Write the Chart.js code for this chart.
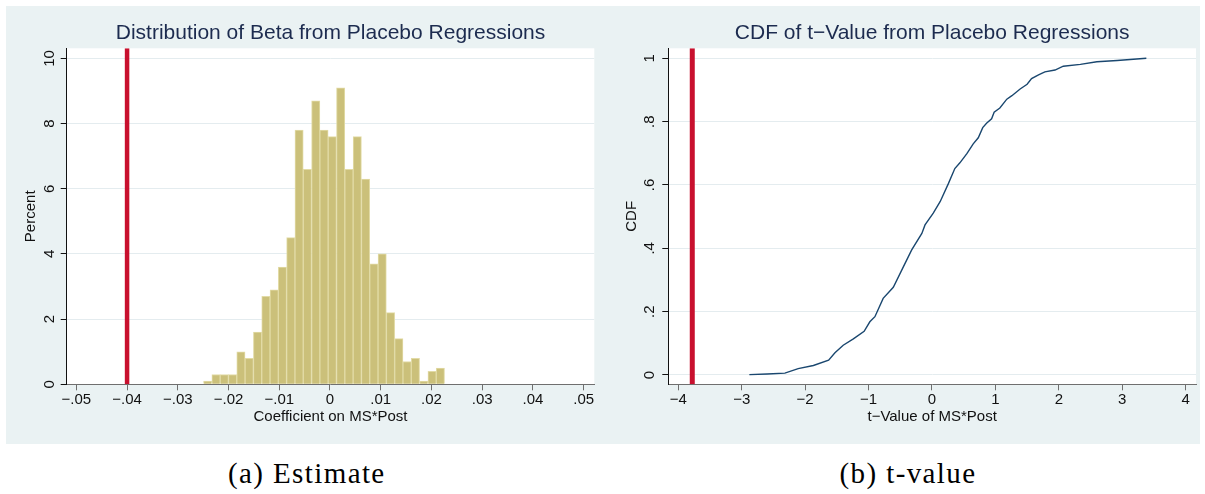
<!DOCTYPE html>
<html>
<head>
<meta charset="utf-8">
<script src="https://cdn.jsdelivr.net/npm/chart.js@4.4.1/dist/chart.umd.min.js"></script>
<style>
  html, body { margin: 0; padding: 0; background: #ffffff; }
  body { width: 1205px; height: 494px; position: relative; overflow: hidden; }
  .panel { position: absolute; top: 6px; width: 597px; height: 438px; background: #EAF2F3; }
  .panel canvas { display: block; }
  #panelA { left: 6px; }
  #panelB { left: 603px; }
  .caption {
    position: absolute; top: 457.7px;
    font-family: 'Liberation Serif', 'Times New Roman', serif;
    font-size: 29px; line-height: 30px; letter-spacing: 1.4px;
    color: #000; white-space: nowrap; transform: translateX(-50%);
  }
</style>
</head>
<body>
<div class="panel" id="panelA"><canvas id="betaChart" width="597" height="438"></canvas></div>
<div class="panel" id="panelB"><canvas id="tChart" width="597" height="438"></canvas></div>
<div class="caption" style="left:306.8px">(a) Estimate</div>
<div class="caption" style="left:908px">(b) t-value</div>

<script>
// ---- Histogram of placebo coefficients ----
const binCenters = [
  -0.02411, -0.02247, -0.02083, -0.01920, -0.01756, -0.01592, -0.01428, -0.01264,
  -0.01100, -0.00937, -0.00773, -0.00609, -0.00445, -0.00281, -0.00118,  0.00046,
   0.00210,  0.00374,  0.00538,  0.00701,  0.00865,  0.01029,  0.01193,  0.01357,
   0.01520,  0.01684,  0.01848,  0.02012,  0.02176
];
const binPercent = [
  0.1, 0.3, 0.3, 0.3, 1.0, 0.8, 1.6, 2.7,
  2.9, 3.6, 4.5, 7.8, 6.6, 8.7, 7.8, 7.6,
  9.1, 6.6, 7.6, 6.3, 3.7, 4.0, 2.2, 1.4,
  0.7, 0.8, 0.1, 0.4, 0.5
];
const betaTicks = [-0.05, -0.04, -0.03, -0.02, -0.01, 0, 0.01, 0.02, 0.03, 0.04, 0.05];
const betaTickLabels = ['\u2212.05', '\u2212.04', '\u2212.03', '\u2212.02', '\u2212.01', '0', '.01', '.02', '.03', '.04', '.05'];
const percentTicks = [0, 2, 4, 6, 8, 10];
const percentTickLabels = ['0', '2', '4', '6', '8', '10'];
const betaActual = -0.04;
const betaRange = [-0.0519, 0.0521];
const percentRange = [0, 10.31];

// ---- CDF of placebo t-values ----
const tValues = [
  -2.88, -2.60, -2.32, -2.11, -1.87, -1.63, -1.53, -1.40, -1.24, -1.07, -0.98,
  -0.90, -0.77, -0.61, -0.45, -0.32, -0.16, -0.11, 0.02, 0.13, 0.26, 0.36,
  0.44, 0.55, 0.65, 0.73, 0.80, 0.86, 0.94, 0.98, 1.07, 1.18, 1.26,
  1.39, 1.50, 1.57, 1.68, 1.78, 1.94, 2.07, 2.34, 2.60, 2.92, 3.38
];
const cdfValues = [
  0.001, 0.003, 0.006, 0.020, 0.030, 0.047, 0.070, 0.094, 0.114, 0.138, 0.168,
  0.184, 0.242, 0.277, 0.342, 0.395, 0.447, 0.474, 0.511, 0.548, 0.605, 0.652,
  0.670, 0.699, 0.730, 0.749, 0.781, 0.795, 0.809, 0.830, 0.843, 0.871, 0.882,
  0.903, 0.918, 0.936, 0.948, 0.957, 0.963, 0.975, 0.981, 0.989, 0.993, 1.000
];
const tTicks = [-4, -3, -2, -1, 0, 1, 2, 3, 4];
const tTickLabels = ['\u22124', '\u22123', '\u22122', '\u22121', '0', '1', '2', '3', '4'];
const cdfTicks = [0, 0.2, 0.4, 0.6, 0.8, 1];
const cdfTickLabels = ['0', '.2', '.4', '.6', '.8', '1'];
const tActual = -3.78;
const tRange = [-4.158, 4.163];
const cdfRange = [-0.0294, 1.0316];

// ---- shared styling ----
const BG_PLOT = '#ffffff';
const GRID = '#E4ECEF';
const INK = '#111111';
const XAXIS = '#6f6f6f';
const TITLE_INK = '#1C2B4F';
const BAR_FILL = '#CBC07A';
const BAR_EDGE = '#E2DBA6';
const RED = '#C8102E';
const NAVY = '#1A476F';

Chart.defaults.font.family = "'Liberation Sans', Arial, Helvetica, sans-serif";
Chart.defaults.color = INK;

const plotBackground = {
  id: 'plotBackground',
  beforeDraw(chart) {
    const { ctx, chartArea: { left, top, width, height } } = chart;
    ctx.save();
    ctx.fillStyle = BG_PLOT;
    ctx.fillRect(left, top, width, height);
    ctx.restore();
  }
};

function fixedTicks(values) {
  return scale => { scale.ticks = values.map(v => ({ value: v })); };
}

function xAxis(range, ticks, labels, title) {
  return {
    type: 'linear', min: range[0], max: range[1], offset: false,
    afterBuildTicks: fixedTicks(ticks),
    afterFit: s => { s.height = 59.7; },
    ticks: {
      callback: (v, i) => labels[i], color: INK, font: { size: 15 },
      padding: 1, minRotation: 0, maxRotation: 0, autoSkip: false
    },
    grid: { drawOnChartArea: false, drawTicks: true, tickLength: 6, tickColor: XAXIS, offset: false },
    border: { display: true, color: XAXIS, width: 1 },
    title: { display: true, text: title, color: INK, font: { size: 15 }, padding: { top: 0, bottom: 18.3 } }
  };
}

function yAxis(range, ticks, labels, title, width, tickPad, titlePad) {
  return {
    type: 'linear', min: range[0], max: range[1],
    afterBuildTicks: fixedTicks(ticks),
    afterFit: s => { s.width = width; },
    ticks: {
      callback: (v, i) => labels[i], color: INK, font: { size: 15 },
      padding: tickPad, minRotation: 90, maxRotation: 90, crossAlign: 'center', autoSkip: false
    },
    grid: { color: GRID, lineWidth: 1, drawTicks: true, tickLength: 6, tickColor: INK },
    border: { display: true, color: INK, width: 1 },
    title: { display: true, text: title, color: INK, font: { size: 15 }, padding: { top: titlePad, bottom: 0 } }
  };
}

function titleBlock(text) {
  return {
    display: true, text, color: TITLE_INK, fullSize: false,
    font: { size: 21, weight: 'normal' }, padding: { top: 14.4, bottom: 2.7 }
  };
}

// Left panel: histogram with the actual estimate marked
new Chart(document.getElementById('betaChart'), {
  type: 'bar',
  data: {
    datasets: [
      {
        type: 'bar',
        data: binCenters.map((c, i) => ({ x: c, y: binPercent[i] })),
        backgroundColor: BAR_FILL, borderColor: BAR_EDGE, borderWidth: 1,
        barPercentage: 1, categoryPercentage: 1, order: 2
      },
      {
        type: 'line',
        data: [{ x: betaActual, y: percentRange[0] }, { x: betaActual, y: percentRange[1] }],
        borderColor: RED, borderWidth: 4.5, pointRadius: 0, fill: false, order: 1
      }
    ]
  },
  options: {
    responsive: false, animation: false, devicePixelRatio: 1,
    layout: { padding: { left: 0, right: 8.7, top: 0, bottom: 0 } },
    scales: {
      x: xAxis(betaRange, betaTicks, betaTickLabels, 'Coefficient on MS*Post'),
      y: yAxis(percentRange, percentTicks, percentTickLabels, 'Percent', 60.7, 2.3, 15.7)
    },
    plugins: {
      title: titleBlock('Distribution of Beta from Placebo Regressions'),
      legend: { display: false },
      tooltip: { enabled: false }
    }
  },
  plugins: [plotBackground]
});

// Right panel: empirical CDF of t-values with the actual t marked
new Chart(document.getElementById('tChart'), {
  type: 'line',
  data: {
    datasets: [
      {
        data: tValues.map((t, i) => ({ x: t, y: cdfValues[i] })),
        borderColor: NAVY, borderWidth: 1.4, pointRadius: 0, fill: false, tension: 0
      },
      {
        data: [{ x: tActual, y: cdfRange[0] }, { x: tActual, y: cdfRange[1] }],
        borderColor: RED, borderWidth: 5, pointRadius: 0, fill: false
      }
    ]
  },
  options: {
    responsive: false, animation: false, devicePixelRatio: 1,
    layout: { padding: { left: 0, right: 4, top: 0, bottom: 0 } },
    scales: {
      x: xAxis(tRange, tTicks, tTickLabels, 't\u2212Value of MS*Post'),
      y: yAxis(cdfRange, cdfTicks, cdfTickLabels, 'CDF', 65.3, 6.3, 20.3)
    },
    plugins: {
      title: titleBlock('CDF of t\u2212Value from Placebo Regressions'),
      legend: { display: false },
      tooltip: { enabled: false }
    }
  },
  plugins: [plotBackground]
});
</script>
</body>
</html>
